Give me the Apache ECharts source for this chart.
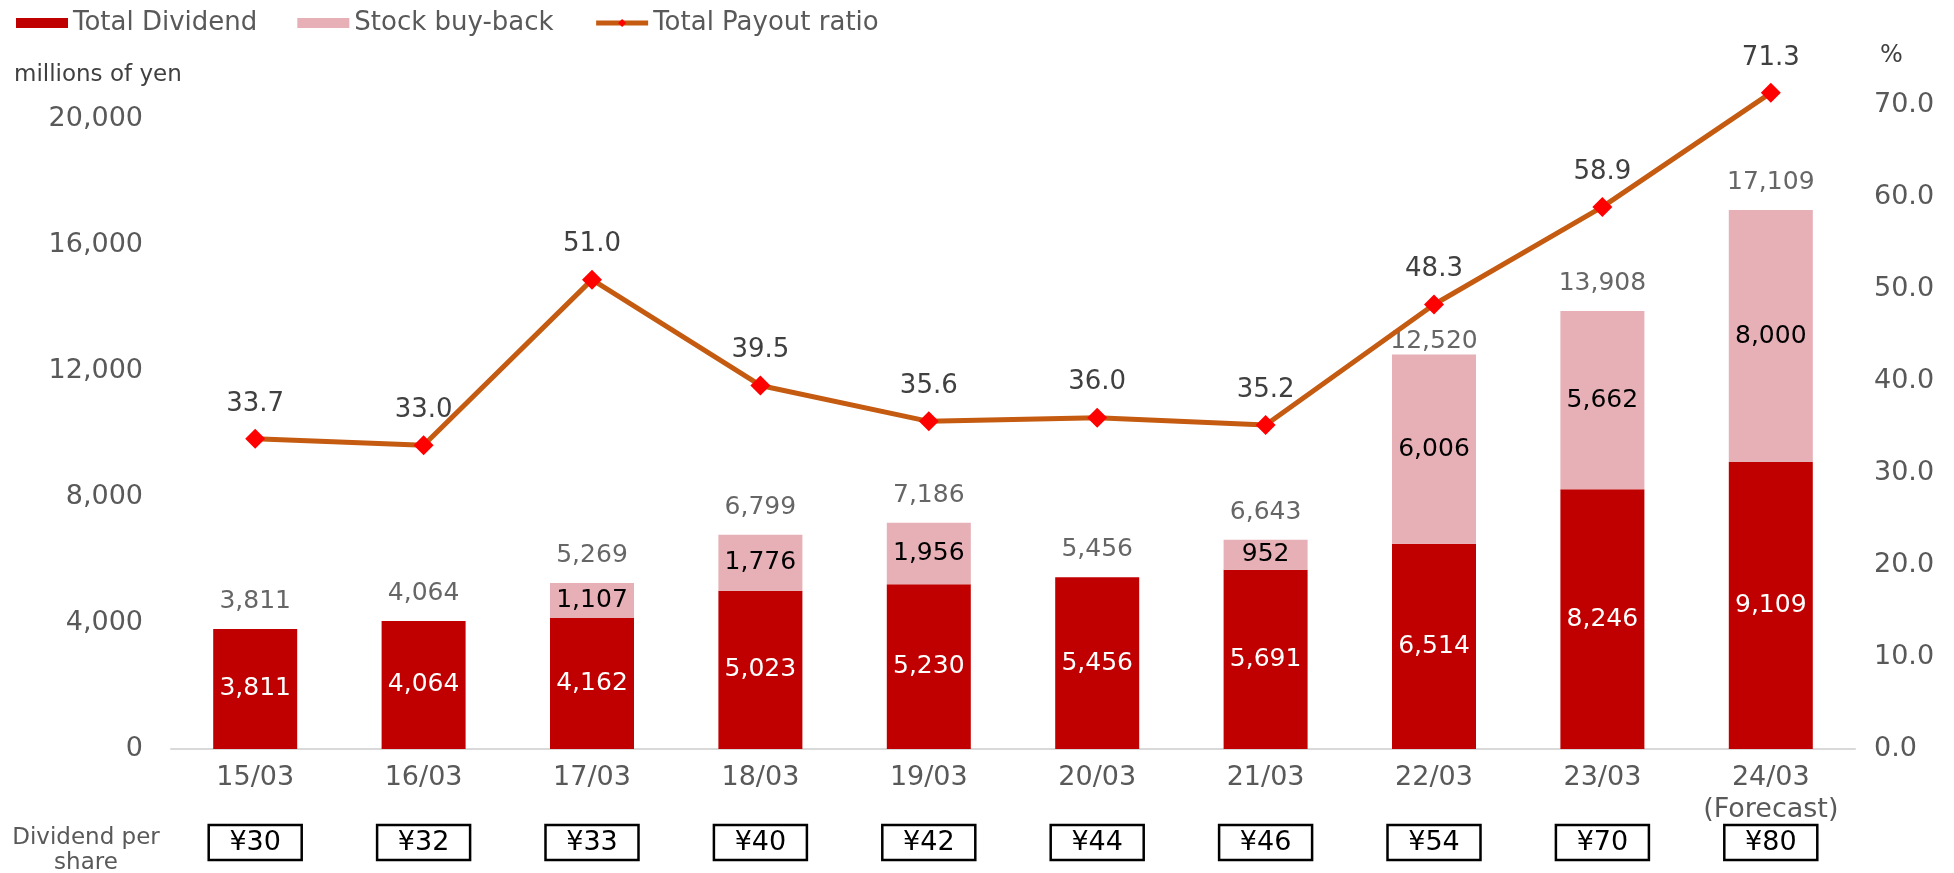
<!DOCTYPE html>
<html>
<head>
    <meta charset="UTF-8">
    <style>
        html, body { margin: 0; padding: 0; background: #fff; }
        #payoutChart { width: 1954px; height: 873px; }
    </style>
</head>
<body>
    <div id="payoutChart"></div>

    <script src="https://cdn.jsdelivr.net/npm/echarts@6/dist/echarts.min.js"></script>
    <script type="text/javascript">
        // values
        var years = ['15/03', '16/03', '17/03', '18/03', '19/03', '20/03', '21/03', '22/03', '23/03', '24/03\n(Forecast)'];
        var dividend = [3811, 4064, 4162, 5023, 5230, 5456, 5691, 6514, 8246, 9109];
        var buyback = [0, 0, 1107, 1776, 1956, 0, 952, 6006, 5662, 8000];
        var totals = [3811, 4064, 5269, 6799, 7186, 5456, 6643, 12520, 13908, 17109];
        var payout = [33.7, 33.0, 51.0, 39.5, 35.6, 36.0, 35.2, 48.3, 58.9, 71.3];
        var dps = ['¥30', '¥32', '¥33', '¥40', '¥42', '¥44', '¥46', '¥54', '¥70', '¥80'];

        var font = 'DejaVu Sans';
        var grey = '#595959';

        function fmt(v) {
            return Number(v).toLocaleString('en-US');
        }

        var myChart = echarts.init(document.getElementById('payoutChart'));
        var option = {
            animation: false,
            textStyle: { fontFamily: font },
            legend: {
                data: [
                    { name: 'Total Dividend', icon: 'rect' },
                    { name: 'Stock buy-back', icon: 'rect' },
                    { name: 'Total Payout ratio', lineStyle: { width: 5 } }
                ],
                left: 16,
                top: 10,
                padding: 0,
                itemWidth: 52,
                itemHeight: 10,
                itemGap: 40,
                textStyle: { color: grey, fontSize: 26, fontFamily: font }
            },
            title: [
                { text: 'millions of yen', left: 14, top: 64, padding: 0,
                  textStyle: { color: '#404040', fontSize: 23, fontWeight: 'normal', fontFamily: font } },
                { text: '%', left: 1880, top: 44, padding: 0,
                  textStyle: { color: '#404040', fontSize: 24, fontWeight: 'normal', fontFamily: font } }
            ],
            graphic: [{
                type: 'text',
                x: 86, y: 851,
                style: {
                    text: 'Dividend per\nshare',
                    align: 'center', verticalAlign: 'middle',
                    fill: grey, fontSize: 23, lineHeight: 25, fontFamily: font
                }
            }],
            grid: { left: 171, right: 99, top: 56, bottom: 124 },
            xAxis: [
                {
                    type: 'category',
                    data: years,
                    axisLine: { lineStyle: { color: '#D9D9D9', width: 2 } },
                    axisTick: { show: false },
                    axisLabel: { interval: 0, color: grey, fontSize: 27, lineHeight: 32, margin: 13, fontFamily: font }
                },
                {
                    type: 'category',
                    data: dps,
                    position: 'bottom',
                    axisLine: { show: false },
                    axisTick: { show: false },
                    axisLabel: {
                        interval: 0,
                        margin: 76,
                        formatter: '{b|{value}}',
                        rich: {
                            b: {
                                width: 93, height: 35, lineHeight: 35,
                                align: 'center', verticalAlign: 'middle',
                                borderColor: '#000', borderWidth: 2.5,
                                color: '#000', fontSize: 27, fontFamily: font
                            }
                        }
                    }
                }
            ],
            yAxis: [
                {
                    type: 'value',
                    min: 0, max: 22000, interval: 4000,
                    splitLine: { show: false },
                    axisLine: { show: false },
                    axisTick: { show: false },
                    axisLabel: {
                        color: grey, fontSize: 27, margin: 28, fontFamily: font,
                        showMaxLabel: false,
                        formatter: function (v) { return fmt(v); }
                    }
                },
                {
                    type: 'value',
                    position: 'right',
                    min: 0, max: 75.3, interval: 10,
                    splitLine: { show: false },
                    axisLine: { show: false },
                    axisTick: { show: false },
                    axisLabel: {
                        color: grey, fontSize: 27, margin: 19, fontFamily: font,
                        showMaxLabel: false,
                        formatter: function (v) { return v.toFixed(1); }
                    }
                }
            ],
            series: [
                {
                    name: 'Total Dividend',
                    type: 'bar',
                    stack: 'pay',
                    barWidth: 84,
                    itemStyle: { color: '#C00000' },
                    label: {
                        show: true, position: 'inside',
                        color: '#fff', fontSize: 25, fontFamily: font,
                        formatter: function (p) { return fmt(p.value); }
                    },
                    data: dividend
                },
                {
                    name: 'Stock buy-back',
                    type: 'bar',
                    stack: 'pay',
                    barWidth: 84,
                    itemStyle: { color: '#E6B0B6' },
                    label: {
                        show: true, position: 'inside',
                        color: '#000', fontSize: 25, fontFamily: font,
                        formatter: function (p) { return p.value ? fmt(p.value) : ''; }
                    },
                    data: buyback
                },
                {
                    // total amount shown above each bar
                    name: 'Total',
                    type: 'scatter',
                    symbolSize: 1,
                    silent: true,
                    itemStyle: { color: 'rgba(0,0,0,0)' },
                    label: {
                        show: true, position: 'top', distance: 14,
                        color: '#404040', fontSize: 25, lineHeight: 26, fontFamily: font,
                        formatter: function (p) { return fmt(p.value); }
                    },
                    data: totals.map(function (v, i) {
                        return i === 7 ? { value: v, label: { distance: 0 } } : v;
                    })
                },
                {
                    name: 'Total Payout ratio',
                    type: 'line',
                    yAxisIndex: 1,
                    symbol: 'diamond',
                    symbolSize: 20,
                    z: 5,
                    lineStyle: { color: '#C55A11', width: 5 },
                    itemStyle: { color: '#FF0000' },
                    label: {
                        show: true, position: 'top', distance: 12,
                        color: '#404040', fontSize: 26, fontFamily: font,
                        formatter: function (p) { return p.value.toFixed(1); }
                    },
                    data: payout
                }
            ]
        };
        myChart.setOption(option);
    </script>
</body>
</html>
